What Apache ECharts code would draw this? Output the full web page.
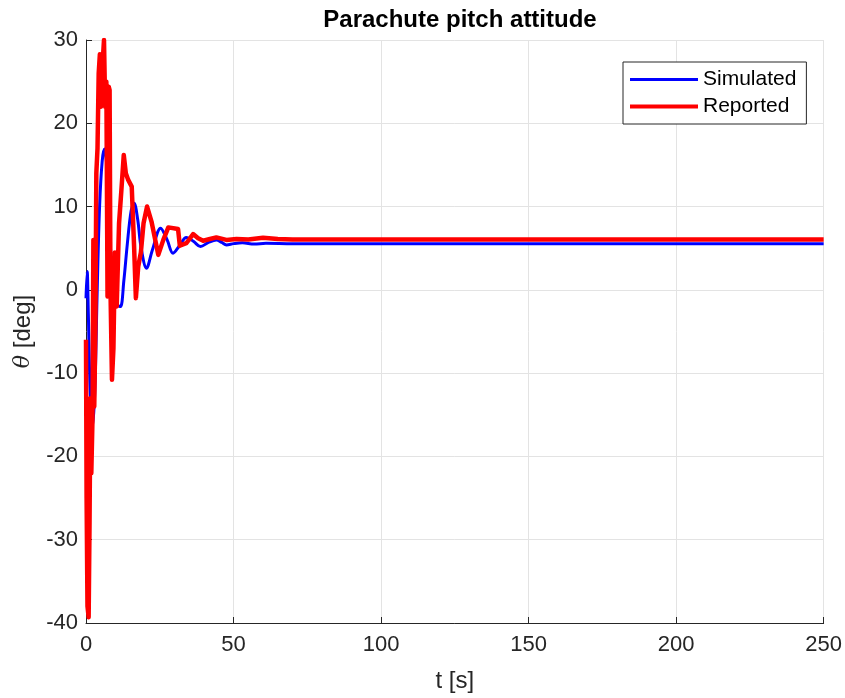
<!DOCTYPE html>
<html>
<head>
<meta charset="utf-8">
<title>Parachute pitch attitude</title>
<script src="https://cdn.jsdelivr.net/npm/echarts@6/dist/echarts.min.js"></script>
<style>
  html, body { margin: 0; padding: 0; background: #ffffff; }
  #chart { width: 845px; height: 698px; }
</style>
</head>
<body>
<div id="chart"></div>
<script>
// Simulated pitch attitude, [t (s), theta (deg)]
const simulatedT = [0, 0.4, 0.8, 1.4, 2.2, 3.0, 3.8, 4.6, 5.5, 6.3, 7.2, 8.3, 9.5, 10.7, 11.7, 12.8, 14, 15.3, 16.3, 17.5, 18.7, 20.5, 22.5, 25.3, 27.5, 29.5, 31.7, 34, 36.5, 38.8, 41.5, 44.2, 46, 47.6, 50, 53, 57, 61, 70, 100, 150, 200, 250];
const simulatedTheta = [-1, 2.2, -3, -12, -16.5, -12, 0, 10, 15.5, 16.9, 14, 5, 0, -1.8, -2.0, 1, 5.5, 9.5, 10.4, 8.5, 5, 2.6, 4.8, 7.4, 6, 4.4, 5.3, 6.3, 5.8, 5.2, 5.7, 6.0, 5.7, 5.4, 5.55, 5.65, 5.5, 5.6, 5.55, 5.55, 5.55, 5.55, 5.55];

// Reported pitch attitude, [t (s), theta (deg)]
const reportedT = [0, 0.2, 0.5, 0.9, 1.2, 1.5, 1.8, 2.2, 2.5, 2.8, 3.2, 3.5, 3.9, 4.3, 4.7, 5.1, 5.6, 6.1, 6.5, 6.9, 7.3, 7.7, 8.0, 8.3, 8.8, 9.3, 9.8, 10.4, 11.2, 12.0, 12.8, 13.5, 14.3, 15.5, 16.3, 16.9, 17.7, 18.6, 19.5, 20.7, 22.2, 24.5, 26.2, 27.9, 31.2, 31.8, 34, 36.3, 38, 39.7, 42, 44.2, 47.6, 51, 55, 60, 65, 70, 100, 150, 200, 250];
const reportedTheta = [-6, -25, -38, -39.3, -28, -13, -22, -15.5, 6, -14, -4, 14, 17, 26, 28.3, 22, 27, 30, 22, 25, -0.8, 24.4, 24, 0, -10.8, -7, 4.5, -2, 8, 12, 16.2, 14, 13.2, 12.4, 5.2, -1.0, 2.8, 4.5, 8, 10.0, 8.2, 4.2, 6, 7.5, 7.3, 5.3, 5.6, 6.7, 6.2, 5.9, 6.1, 6.3, 6.0, 6.1, 6.05, 6.25, 6.1, 6.05, 6.05, 6.05, 6.05, 6.05];

// Axis ticks
const xTicks = [0, 50, 100, 150, 200, 250];
const yTicks = [-40, -30, -20, -10, 0, 10, 20, 30];

const seriesNames = ['Simulated', 'Reported'];

const pairs = (xs, ys) => xs.map((x, i) => [x, ys[i]]);

const FONT = 'Liberation Sans, Arial, Helvetica, sans-serif';
const AXIS_COLOR = '#262626';
const GRID_COLOR = '#e3e3e3';

const chart = echarts.init(document.getElementById('chart'), null, { renderer: 'canvas' });

chart.setOption({
  backgroundColor: '#ffffff',
  animation: false,
  textStyle: { fontFamily: FONT },
  title: {
    text: 'Parachute pitch attitude',
    left: 455,
    textAlign: 'center',
    top: 3,
    textStyle: { fontFamily: FONT, fontSize: 24, fontWeight: 'bold', color: '#000000' }
  },
  grid: { left: 86, right: 20, top: 40, bottom: 75, containLabel: false, show: false },
  legend: {
    left: 623,
    top: 62,
    orient: 'vertical',
    data: [
      { name: seriesNames[0], icon: 'path://M0,0H68V3H0Z' },
      { name: seriesNames[1], icon: 'path://M0,0H68V4H0Z' }
    ],
    itemWidth: 68,
    itemHeight: 14,
    itemGap: 6,
    symbolKeepAspect: true,
    padding: [7, 10, 7, 7],
    backgroundColor: '#ffffff',
    borderColor: '#262626',
    borderWidth: 1,
    borderRadius: 0,
    textStyle: { fontFamily: FONT, fontSize: 21, color: '#000000' }
  },
  xAxis: {
    type: 'value',
    min: xTicks[0],
    max: xTicks[xTicks.length - 1],
    interval: 50,
    name: 't [s]',
    nameLocation: 'middle',
    nameGap: 46,
    nameTextStyle: { fontFamily: FONT, fontSize: 24, color: '#262626' },
    axisLine: { show: true, onZero: false, lineStyle: { color: AXIS_COLOR, width: 1 } },
    axisTick: { show: true, inside: true, length: 6, lineStyle: { color: AXIS_COLOR } },
    axisLabel: { fontFamily: FONT, fontSize: 22, color: '#262626', margin: 11 },
    splitLine: { show: true, lineStyle: { color: GRID_COLOR, width: 1 } }
  },
  yAxis: {
    type: 'value',
    min: yTicks[0],
    max: yTicks[yTicks.length - 1],
    interval: 10,
    name: '{i|θ} [deg]',
    nameLocation: 'middle',
    nameGap: 40,
    nameRotate: 90,
    nameTextStyle: {
      fontFamily: FONT, fontSize: 24, color: '#262626',
      rich: { i: { fontFamily: 'DejaVu Serif, serif', fontStyle: 'italic', fontSize: 22, color: '#262626' } }
    },
    axisLine: { show: true, onZero: false, lineStyle: { color: AXIS_COLOR, width: 1 } },
    axisTick: { show: true, inside: true, length: 6, lineStyle: { color: AXIS_COLOR } },
    axisLabel: { fontFamily: FONT, fontSize: 22, color: '#262626', margin: 8 },
    splitLine: { show: true, lineStyle: { color: GRID_COLOR, width: 1 } }
  },
  series: [
    {
      name: seriesNames[0],
      type: 'line',
      data: pairs(simulatedT, simulatedTheta),
      symbol: 'none',
      smooth: 0.35,
      color: '#0000ff',
      lineStyle: { color: '#0000ff', width: 3 },
      z: 2
    },
    {
      name: seriesNames[1],
      type: 'line',
      data: pairs(reportedT, reportedTheta),
      symbol: 'none',
      smooth: false,
      color: '#ff0000',
      lineStyle: { color: '#ff0000', width: 4.5, join: 'round' },
      z: 3
    }
  ]
});
</script>
</body>
</html>
